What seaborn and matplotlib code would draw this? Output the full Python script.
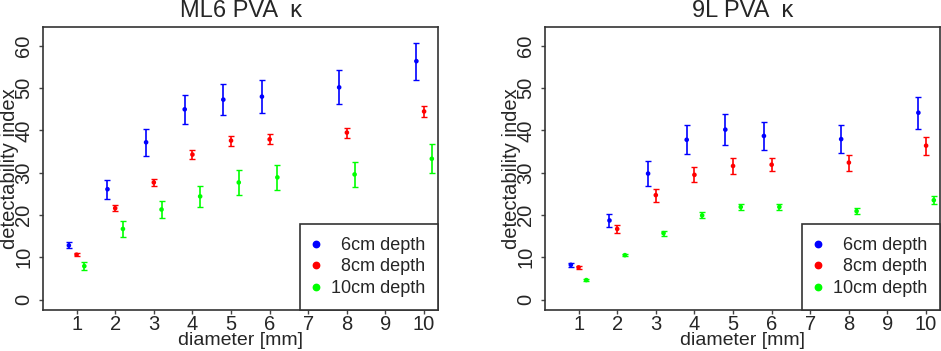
import numpy as np
import pandas as pd
import matplotlib
matplotlib.use("Agg")
import matplotlib.pyplot as plt
from matplotlib.lines import Line2D
import seaborn as sns

# diametrai ir gyliai
diameters = [1, 2, 3, 4, 5, 6, 8, 10]
depths = ['6cm depth', '8cm depth', '10cm depth']
offsets = [-0.2, 0.0, 0.2]
colors = ['#0000ff', '#ff0000', '#00ff00']

# ML6 PVA
ml6_6cm = [12.8, 26.1, 37.2, 45.0, 47.3, 48.0, 50.2, 56.4]
ml6_6cm_err = [0.7, 2.2, 3.2, 3.4, 3.7, 3.9, 4.0, 4.4]
ml6_8cm = [10.6, 21.6, 27.7, 34.3, 37.6, 37.9, 39.5, 44.5]
ml6_8cm_err = [0.3, 0.65, 0.85, 1.05, 1.2, 1.2, 1.2, 1.35]
ml6_10cm = [7.9, 16.7, 21.3, 24.4, 27.7, 28.9, 29.6, 33.3]
ml6_10cm_err = [0.9, 1.8, 2.1, 2.4, 2.9, 3.0, 3.05, 3.45]

# 9L PVA
l9_6cm = [8.2, 18.7, 29.8, 37.8, 40.2, 38.7, 37.95, 44.2]
l9_6cm_err = [0.4, 1.5, 2.9, 3.4, 3.6, 3.3, 3.25, 3.8]
l9_8cm = [7.6, 16.7, 24.7, 29.5, 31.6, 31.9, 32.4, 36.4]
l9_8cm_err = [0.3, 0.85, 1.55, 1.8, 1.85, 1.6, 1.9, 2.1]
l9_10cm = [4.6, 10.5, 15.7, 19.9, 21.9, 21.9, 20.9, 23.5]
l9_10cm_err = [0.3, 0.3, 0.6, 0.7, 0.8, 0.8, 0.7, 1.0]

panels = [
    ('ML6 PVA  \u03ba', [ml6_6cm, ml6_8cm, ml6_10cm], [ml6_6cm_err, ml6_8cm_err, ml6_10cm_err]),
    ('9L PVA  \u03ba', [l9_6cm, l9_8cm, l9_10cm], [l9_6cm_err, l9_8cm_err, l9_10cm_err]),
]

sns.set_style("white")
plt.rcParams['font.family'] = ['Liberation Sans', 'DejaVu Sans']

fig = plt.figure(figsize=(9.41, 3.51), dpi=100)
ax_boxes = [
    [43 / 941, 41 / 351, 395 / 941, 283 / 351],
    [545 / 941, 41 / 351, 395 / 941, 283 / 351],
]

for (title, vals, errs), box in zip(panels, ax_boxes):
    ax = fig.add_axes(box)
    rows = []
    for depth, off, v, e in zip(depths, offsets, vals, errs):
        for d, vi, ei in zip(diameters, v, e):
            rows.append({'x': d + off, 'd': vi, 'err': ei, 'depth': depth})
    df = pd.DataFrame(rows)

    for depth, col in zip(depths, colors):
        sub = df[df['depth'] == depth]
        ax.errorbar(sub['x'], sub['d'], yerr=sub['err'], fmt='none', ecolor=col,
                    elinewidth=1.2, capsize=2.2, capthick=1.0, zorder=2)
    sns.scatterplot(data=df, x='x', y='d', hue='depth', hue_order=depths,
                    palette=colors, s=11, linewidth=0, legend=False, ax=ax, zorder=3)

    ax.set_xlim(0.13, 10.36)
    ax.set_ylim(-2.48, 64.48)
    ax.set_xticks(range(1, 11))
    ax.set_yticks(range(0, 61, 10))
    ax.tick_params(axis='both', direction='out', length=3, width=1, color='#444444',
                   labelsize=14.5, bottom=True, left=True)
    ax.tick_params(axis='x', pad=0.5)
    ax.tick_params(axis='y', pad=4, labelrotation=90)
    for lab in ax.get_yticklabels():
        lab.set_va('center')
    for sp in ax.spines.values():
        sp.set_color('#333333')
        sp.set_linewidth(1.2)

    ax.set_title(title, fontsize=17, pad=7)
    ax.set_xlabel('diameter [mm]', fontsize=14)
    ax.set_ylabel('detectability index', fontsize=14.5)
    ax.xaxis.set_label_coords(0.5, -0.077)
    ax.yaxis.set_label_coords(-0.061, 0.5)

    handles = [Line2D([], [], marker='o', linestyle='none', color=c, markersize=4.6)
               for c in colors]
    labels = ['\u2007' + depths[0], '\u2007' + depths[1], depths[2]]
    leg = ax.legend(handles, labels, loc='lower right', bbox_to_anchor=(1, 0),
                    borderaxespad=0, fancybox=False, framealpha=1, edgecolor='#333333',
                    fontsize=13, handlelength=0.3, handletextpad=0.65, borderpad=0.73,
                    labelspacing=0.24)
    leg.get_frame().set_linewidth(1.2)

fig.savefig('out.png', dpi=100)
